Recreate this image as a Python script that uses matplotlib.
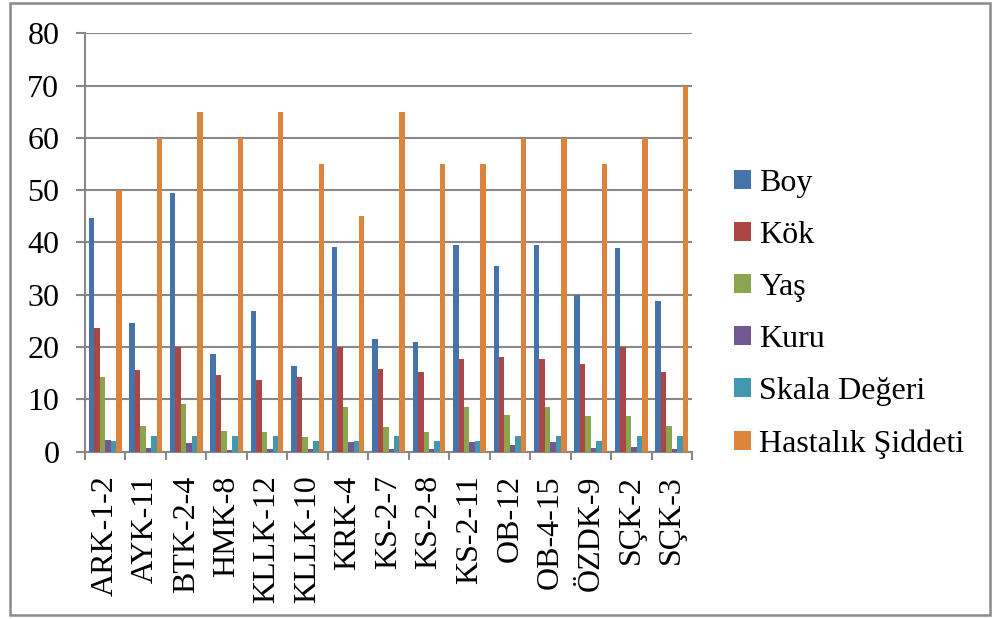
import numpy as np
import matplotlib
matplotlib.use('Agg')
import matplotlib.pyplot as plt
from matplotlib.patches import Rectangle, Patch

plt.rcParams['font.family'] = ['Liberation Serif', 'DejaVu Serif']

categories = ['ARK-1-2', 'AYK-11', 'BTK-2-4', 'HMK-8', 'KLLK-12', 'KLLK-10', 'KRK-4',
              'KS-2-7', 'KS-2-8', 'KS-2-11', 'OB-12', 'OB-4-15', 'ÖZDK-9', 'SÇK-2', 'SÇK-3']

boy = [44.7, 24.6, 49.4, 18.7, 26.9, 16.4, 39.2, 21.5, 20.9, 39.5, 35.6, 39.5, 29.9, 38.9, 28.9]
kok = [23.6, 15.6, 20.0, 14.7, 13.7, 14.2, 20.0, 15.8, 15.3, 17.7, 18.2, 17.7, 16.7, 20.0, 15.3]
yas = [14.3, 5.0, 9.2, 4.0, 3.8, 2.9, 8.6, 4.7, 3.7, 8.5, 7.1, 8.5, 6.8, 6.9, 5.0]
kuru = [2.2, 0.7, 1.7, 0.4, 0.5, 0.45, 1.8, 0.6, 0.6, 1.8, 1.2, 1.8, 0.8, 0.9, 0.6]
skala = [2, 3, 3, 3, 3, 2, 2, 3, 2, 2, 3, 3, 2, 3, 3]
hastalik = [50, 60, 65, 60, 65, 55, 45, 65, 55, 55, 60, 60, 55, 60, 70]

series = [boy, kok, yas, kuru, skala, hastalik]
names = ['Boy', 'Kök', 'Yaş', 'Kuru', 'Skala Değeri', 'Hastalık Şiddeti']
colors = ['#4573AA', '#AA4643', '#89A54E', '#71588F', '#4198AF', '#DB843D']

fig = plt.figure(figsize=(9.93, 6.19), dpi=100)
ax = fig.add_axes([0.0856, 0.2703, 0.6113, 0.6759])

x = np.arange(len(categories))
w = 0.135
for j, (vals, c) in enumerate(zip(series, colors)):
    ax.bar(x + (j - 2.5) * w, vals, width=w, color=c, zorder=3)

grid_c = '#888888'
ax.set_ylim(0, 80)
ax.set_xlim(-0.5, len(categories) - 0.5)
ax.set_yticks(range(0, 81, 10))
ax.yaxis.grid(True, color=grid_c, linewidth=1.5, zorder=0)
ax.set_axisbelow(True)

ax.set_xticks(x)
ax.set_xticklabels(categories, rotation=90, fontsize=23)
ax.set_xticks(np.arange(-0.5, len(categories)), minor=True)
ax.tick_params(axis='x', which='major', length=0, pad=17)
ax.tick_params(axis='x', which='minor', length=5.5, width=1.5, color=grid_c, direction='out')
ax.tick_params(axis='y', length=6.5, width=1.5, color=grid_c, labelsize=23, pad=12)

for s in ['top', 'right']:
    ax.spines[s].set_visible(False)
for s in ['left', 'bottom']:
    ax.spines[s].set_color(grid_c)
    ax.spines[s].set_linewidth(1.5)

handles = [Patch(facecolor=c, edgecolor='none') for c in colors]
fig.legend(handles, names, loc='center left', bbox_to_anchor=(0.726, 0.493),
           frameon=False, fontsize=23, handlelength=0.55, handleheight=0.55,
           handletextpad=0.25, labelspacing=0.72, borderaxespad=0)

# outer chart border
fig.patches.append(Rectangle((10 / 993, 4 / 619), 980 / 993, 612 / 619,
                             transform=fig.transFigure, fill=False,
                             edgecolor='#8a8a8a', linewidth=1.8))

fig.savefig('out.png', dpi=100)
